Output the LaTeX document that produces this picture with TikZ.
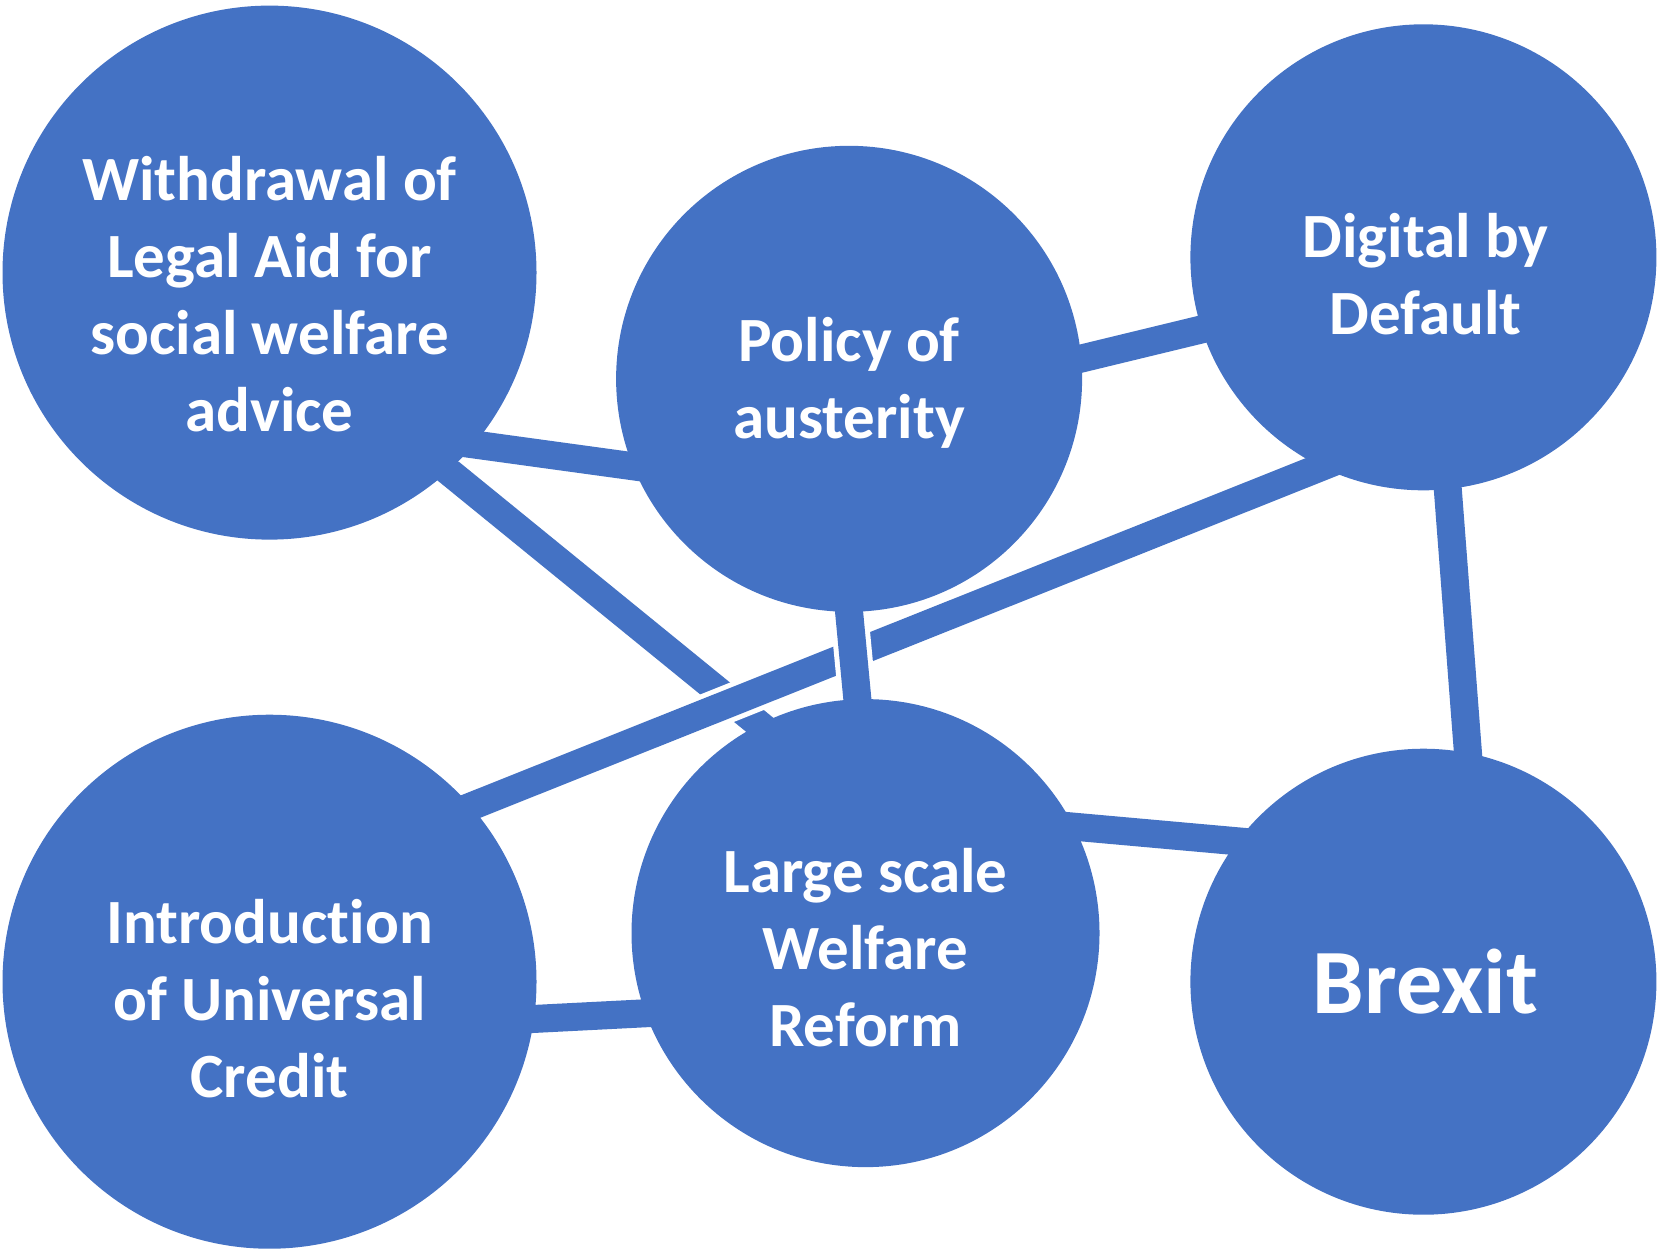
\documentclass[tikz,border=0pt]{standalone}
\usepackage{fontspec}
\setmainfont{Carlito}[Ligatures=NoCommon]
\usepackage{tikz}
\usetikzlibrary{backgrounds}
\definecolor{capblue}{HTML}{4472C4}

\begin{document}
\begin{tikzpicture}[x=0.5pt, y=-0.5pt,
    topic/.style={circle, fill=capblue, inner sep=0pt, minimum size=#1},
    caption/.style={text=white, align=center, inner sep=0pt,
        font=\fontsize{31.5pt}{38.5pt}\selectfont\bfseries},
    link/.style={draw=white, line width=2.5pt, double=capblue,
        double distance=14pt, shorten <=-8pt, shorten >=-8pt}]
            \useasboundingbox (0,0) rectangle (1657,1250);
            % the six circles
            \node[topic=267pt] (wd) at (269.5,272.6) {};
            \node[topic=233pt] (pa) at (849.1,378.8) {};
            \node[topic=233pt] (dd) at (1423.4,257.3) {};
            \node[topic=267pt] (uc) at (269.5,981.7) {};
            \node[topic=234pt] (ls) at (865.5,933.1) {};
            \node[topic=233pt] (bx) at (1423.4,981.7) {};
            % labels
            \node[caption] (wdtext) at ([yshift=-10.6pt]wd.center) {Withdrawal of\\Legal Aid for\\social welfare\\advice};
            \node[caption] (patext) at ([yshift=-2pt]pa.center) {Policy of\\austerity};
            \node[caption] (ddtext) at ([xshift=1pt,yshift=-8.3pt]dd.center) {Digital by\\Default};
            \node[caption] (uctext) at ([yshift=-8.3pt]uc.center) {Introduction\\of Universal\\Credit};
            \node[caption] (lstext) at ([yshift=-7.4pt]ls.center) {Large scale\\Welfare\\Reform};
            \node[caption, font=\fontsize{46pt}{55pt}\selectfont\bfseries] (bxtext) at ([xshift=1pt]bx.center) {Brexit};
            % links run behind the circles, later ones cut the earlier
            \begin{pgfonlayer}{background}
                \draw[link] (wd.-48.5) -- (ls.117.8);
                \draw[link] (wd.-40.3) -- (pa.202.1);
                \draw[link] (dd.-116.1) -- (uc.41.1);
                \draw[link] (pa.-90) -- (ls.92.7);
                \draw[link] (pa.5.1) -- (dd.198.7);
                \draw[link] (dd.-84.5) -- (bx.79.7);
                \draw[link] (uc.-8.6) -- (ls.200.4);
                \draw[link] (ls.27.8) -- (bx.143.7);
            \end{pgfonlayer}
        \end{tikzpicture}
\end{document}
